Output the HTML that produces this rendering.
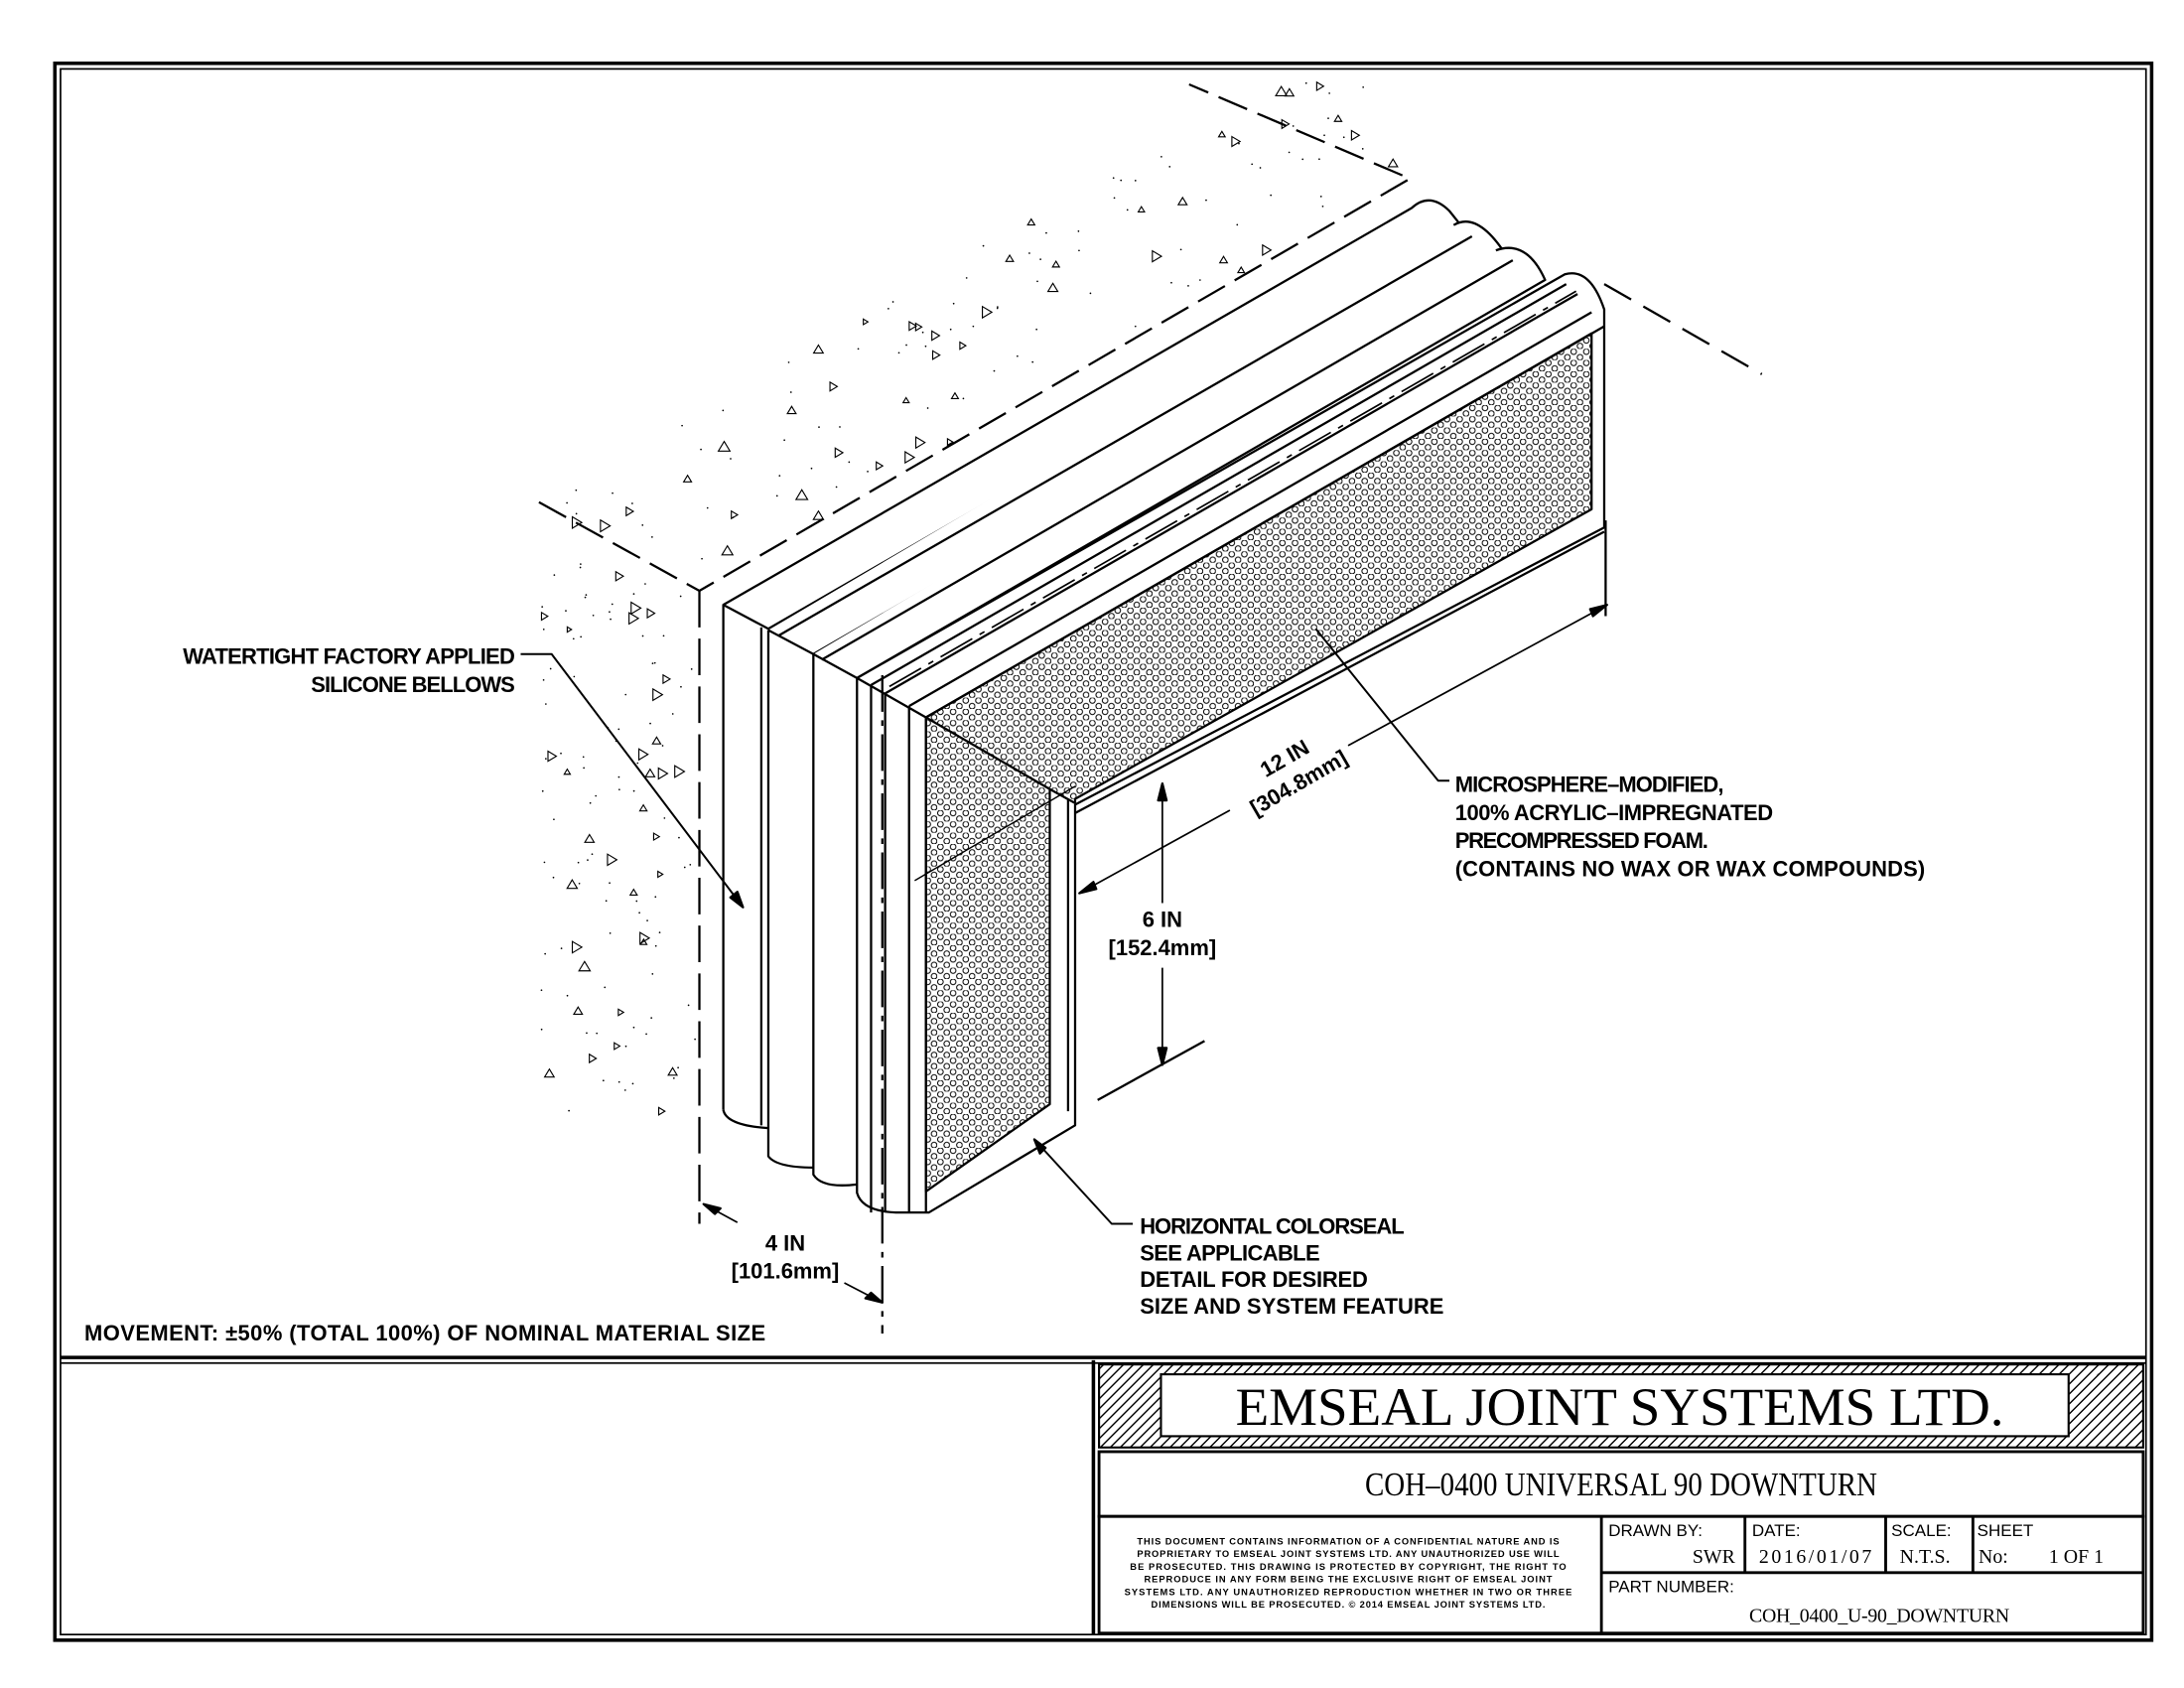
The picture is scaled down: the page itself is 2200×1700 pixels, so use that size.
<!DOCTYPE html>
<html><head><meta charset="utf-8"><style>
html,body{margin:0;padding:0;background:#fff}
svg{display:block}
text{font-family:"Liberation Sans",sans-serif;fill:#000}
.s{font-family:"Liberation Serif",serif}
</style></head><body>
<svg id="sv" width="2200" height="1700" viewBox="0 0 1552 1200" preserveAspectRatio="none" xmlns="http://www.w3.org/2000/svg">
<defs>
<pattern id="foam" width="9" height="8" patternUnits="userSpaceOnUse">
<circle cx="2.3" cy="2" r="2" fill="none" stroke="#000" stroke-width="0.7"/>
<circle cx="6.8" cy="6" r="2" fill="none" stroke="#000" stroke-width="0.7"/>
</pattern>
<pattern id="hatch" width="5" height="5" patternUnits="userSpaceOnUse" patternTransform="rotate(45)">
<rect width="5" height="5" fill="#fff"/><line x1="0" y1="0" x2="0" y2="5" stroke="#000" stroke-width="2"/>
</pattern>
</defs>
<g fill="none" stroke="#000">
<rect x="39" y="45" width="1490" height="1121" stroke-width="2.5"/>
<rect x="43" y="49" width="1482" height="1113" stroke-width="1.2"/>
<line x1="43" y1="965" x2="1525" y2="965" stroke-width="2.5"/>
<line x1="43" y1="969" x2="1525" y2="969" stroke-width="1.2"/>
<line x1="777" y1="967" x2="777" y2="1162" stroke-width="2.5"/>
<rect x="781" y="970" width="742" height="59" fill="url(#hatch)" stroke-width="1.5"/>
<rect x="825" y="977" width="645" height="44" fill="#fff" stroke-width="1.5"/>
<rect x="781" y="1032" width="742" height="46" stroke-width="2"/>
<rect x="781" y="1078" width="742" height="83" stroke-width="2"/>
<line x1="1138" y1="1078" x2="1138" y2="1161" stroke-width="2"/>
<line x1="1240" y1="1078" x2="1240" y2="1118" stroke-width="2"/>
<line x1="1340" y1="1078" x2="1340" y2="1118" stroke-width="2"/>
<line x1="1402" y1="1078" x2="1402" y2="1118" stroke-width="2"/>
<line x1="1138" y1="1118" x2="1523" y2="1118" stroke-width="2"/>

<g id="spk" stroke-width="0.8"></g>
<g stroke-width="1.6" stroke-linejoin="round">
<path d="M383 357 L497 420 L1002 127 L845 60" stroke-dasharray="22 8"/>
<path d="M497 420 L497 870" stroke-dasharray="26 8"/>
<line x1="1140" y1="202" x2="1252" y2="266" stroke-dasharray="22 10"/>
<path d="M514 789 L514 430 L1003 148 Q1016 136 1030 150 L1038 160" fill="#fff"/>
<path d="M514 430 L546 447 L1038 163" />
<path d="M514 789 Q516 800 546 802" />
<path d="M541 446 L541 800"/>
<path d="M546 448 L546 822 Q552 830 578 830 M546 448 L578 465 L1070 181 Q1050 150 1033 160" fill="#fff"/>
<path d="M553 452 L1046 168"/>
<path d="M578 465 L578 835 Q584 845 609 842 M578 465 L609 482 L1098 199 Q1085 170 1063 178" fill="#fff"/>
<path d="M584 469 L1075 185"/>
<path d="M609 482 L609 848 Q613 862 640 862 L660 862 L764 800 L764 572 L1140 375 L1140 220 Q1130 190 1112 195 Z" fill="#fff"/>
<path d="M658 510 L1131 237 L1131 362 L764 568 L764 571" fill="url(#foam)"/>
<path d="M658 510 L746 561 L746 785 L658 847 Z" fill="url(#foam)"/>
<path d="M609 482 L658 510 L1140 232"/>
<path d="M619 487 L1113 202 M629 493 L1121 209 M646 502 L1131 222"/>
<path d="M619 487 L619 862 M629 493 L629 862 M646 502 L646 862 M658 510 L658 862"/>
<path d="M746 561 L764 571 M759 568 L759 790"/>
<path d="M764 578 L1140 378"/>
<path d="M650 626 L764 559" stroke-width="1"/>
<path d="M627 480 L627 948" stroke-dasharray="26 6 4 6"/>
<path d="M632 488 L1120 207" stroke-dasharray="26 6 4 6" stroke-width="1.2"/>
<!-- 4 IN -->
<path d="M500 856 L524 869 M600 912 L627 926" stroke-width="1.2"/>
<path d="M500 856 l12 3 l-4 4 z M627 926 l-12 -3 l4 -4 z" fill="#000"/>
<!-- 6 IN -->
<path d="M826 557 L826 642 M826 688 L826 757" stroke-width="1.2"/>
<path d="M826 557 l-3 12 l6 0 z M826 757 l-3 -12 l6 0 z" fill="#000"/>
<line x1="780" y1="782" x2="856" y2="740"/>
<!-- 12 IN -->
<path d="M767 635 L874 576 M958 530 L1142 430" stroke-width="1.2"/>
<path d="M767 635 l10 -8 l2 5 z M1142 430 l-10 8 l-2 -5 z" fill="#000"/>
<line x1="1141" y1="370" x2="1141" y2="438"/>
<path d="M370 465 L392 465 L528 645" stroke-width="1.4"/>
<path d="M528 645 l-9 -7 l5 -4 z" fill="#000"/>
<path d="M935 447 L1022 555 L1030 555" stroke-width="1.4"/>
<path d="M735 810 L790 870 L805 870" stroke-width="1.4"/>
<path d="M735 810 l4 10 l4 -4 z" fill="#000"/>
</g>
</g>

<g font-size="15.5" font-weight="bold">
<text x="366" y="472" text-anchor="end" textLength="236">WATERTIGHT FACTORY APPLIED</text>
<text x="366" y="492" text-anchor="end" textLength="145">SILICONE BELLOWS</text>
<text x="1034" y="563" textLength="191">MICROSPHERE–MODIFIED,</text>
<text x="1034" y="583" textLength="226">100% ACRYLIC–IMPREGNATED</text>
<text x="1034" y="603" textLength="180">PRECOMPRESSED FOAM.</text>
<text x="1034" y="623" textLength="334">(CONTAINS NO WAX OR WAX COMPOUNDS)</text>
<text x="810" y="877" textLength="188">HORIZONTAL COLORSEAL</text>
<text x="810" y="896" textLength="128">SEE APPLICABLE</text>
<text x="810" y="915" textLength="162">DETAIL FOR DESIRED</text>
<text x="810" y="934" textLength="216">SIZE AND SYSTEM FEATURE</text>
<text x="60" y="953" textLength="484">MOVEMENT: ±50% (TOTAL 100%) OF NOMINAL MATERIAL SIZE</text>
<text x="558" y="889" text-anchor="middle">4 IN</text>
<text x="558" y="909" text-anchor="middle">[101.6mm]</text>
<text x="826" y="659" text-anchor="middle">6 IN</text>
<text x="826" y="679" text-anchor="middle">[152.4mm]</text>
<g transform="translate(918,548) rotate(-30)"><text x="0" y="-5" text-anchor="middle">12 IN</text><text x="0" y="15" text-anchor="middle">[304.8mm]</text></g>
</g>

<text class="s" x="878" y="1013" font-size="38" textLength="546" lengthAdjust="spacingAndGlyphs">EMSEAL JOINT SYSTEMS LTD.</text>
<text class="s" x="970" y="1063" font-size="24" textLength="364" lengthAdjust="spacingAndGlyphs">COH–0400 UNIVERSAL 90 DOWNTURN</text>
<g font-size="6.6" font-weight="bold" text-anchor="middle">
<text x="958" y="1098" textLength="300">THIS DOCUMENT CONTAINS INFORMATION OF A CONFIDENTIAL NATURE AND IS</text>
<text x="958" y="1107" textLength="300">PROPRIETARY TO EMSEAL JOINT SYSTEMS LTD. ANY UNAUTHORIZED USE WILL</text>
<text x="958" y="1116" textLength="310">BE PROSECUTED. THIS DRAWING IS PROTECTED BY COPYRIGHT, THE RIGHT TO</text>
<text x="958" y="1125" textLength="290">REPRODUCE IN ANY FORM BEING THE EXCLUSIVE RIGHT OF EMSEAL JOINT</text>
<text x="958" y="1134" textLength="318">SYSTEMS LTD. ANY UNAUTHORIZED REPRODUCTION WHETHER IN TWO OR THREE</text>
<text x="958" y="1143" textLength="280">DIMENSIONS WILL BE PROSECUTED. © 2014 EMSEAL JOINT SYSTEMS LTD.</text>
</g>
<g font-size="12">
<text x="1143" y="1092">DRAWN BY:</text>
<text x="1245" y="1092">DATE:</text>
<text x="1344" y="1092">SCALE:</text>
<text x="1405" y="1092">SHEET</text>
<text x="1143" y="1132">PART NUMBER:</text>
</g>
<g font-size="14">
<text class="s" x="1233" y="1111" text-anchor="end">SWR</text>
<text class="s" x="1250" y="1111" textLength="80">2016/01/07</text>
<text class="s" x="1350" y="1111">N.T.S.</text>
<text class="s" x="1406" y="1111">No:</text>
<text class="s" x="1456" y="1111">1 OF 1</text>
<text class="s" x="1243" y="1153" textLength="185">COH_0400_U-90_DOWNTURN</text>
</g>
</svg>
<script>
(function(){
var s=12345;function r(){s=(s*1103515245+12345)%2147483648;return s/2147483648;}
var g=document.getElementById('spk'),h='';
function inTop(x,y){
 var a=y-(357-(x-383)*0.578), b=y-(420-(x-497)*0.58);
 return x>383&&x<1000&&a>0&&b<-4&&y>55;}
function inLeft(x,y){return x>383&&x<494&&y>360+(x-383)*0.55&&y<790;}
for(var i=0;i<2200;i++){
 var x=383+r()*620,y=50+r()*740;
 if(!(inTop(x,y)||inLeft(x,y)))continue;
 var t=r();
 if(t<0.13){var z=3+r()*4,k=r()<0.5;
  if(k)h+='<path d="M'+x.toFixed(1)+' '+y.toFixed(1)+' l'+z+' '+(z*0.6)+' l'+(-z)+' '+(z*0.6)+' z"/>';
  else h+='<path d="M'+x.toFixed(1)+' '+y.toFixed(1)+' l'+(z*0.6)+' '+z+' l'+(-z*1.2)+' 0 z"/>';}
 else if(t<0.45) h+='<circle cx="'+x.toFixed(1)+'" cy="'+y.toFixed(1)+'" r="0.6" fill="#000" stroke="none"/>';
}
g.innerHTML=h;
})();
</script>
</body></html>
